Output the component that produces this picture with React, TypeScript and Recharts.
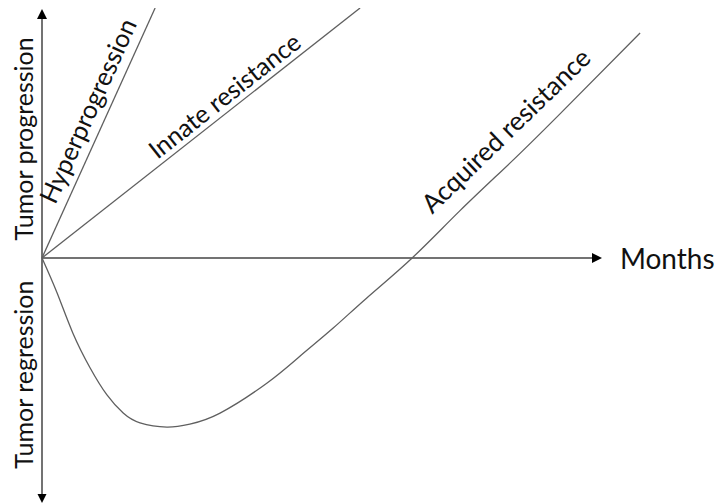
import { LineChart, Line, XAxis, YAxis, ReferenceLine, ReferenceDot } from 'recharts';

// x = months (arbitrary units), y = tumour size change (arbitrary units)
const hyperMonths = [0, 2.02];
const hyperSize = [0, 10.2];

const innateMonths = [0, 5.68];
const innateSize = [0, 10.2];

const acquiredMonths = [0, 0.27, 0.55, 0.86, 1.16, 1.45, 1.75, 2.23, 2.64, 3.18, 4.02, 4.61, 5.2, 5.8, 6.61, 7.46, 8.36, 9.25, 10.68];
const acquiredSize = [0, -1.43, -3.06, -4.49, -5.59, -6.33, -6.73, -6.9, -6.78, -6.33, -5.1, -4.0, -2.86, -1.63, 0, 1.92, 3.88, 5.88, 9.18];

const labelTexts = ['Tumor progression', 'Tumor regression', 'Hyperprogression', 'Innate resistance', 'Acquired resistance', 'Months'];

const toRows = (xs: number[], ys: number[]) => xs.map((x, i) => ({ x, y: ys[i] }));

const FONT = "Lato, 'Open Sans', sans-serif";
const LINE = '#5f5f5f';
const AXIS = '#444';
const INK = '#111';

// label placement (data units) and rotation
const LABEL_POS = [
  { x: -0.16, y: 4.86, angle: -90, anchor: 'middle', size: 25 },
  { x: -0.16, y: -4.76, angle: -90, anchor: 'middle', size: 25 },
  { x: 0.97, y: 5.85, angle: -65.7, anchor: 'middle', size: 25.5 },
  { x: 3.36, y: 6.33, angle: -38.2, anchor: 'middle', size: 25 },
  { x: 8.4, y: 4.92, angle: -44, anchor: 'middle', size: 26 },
  { x: 10.32, y: 0, angle: 0, anchor: 'start', size: 28 },
];

const arrow = (dir: 'up' | 'down' | 'right') => (p: any) => {
  const { cx, cy } = p;
  let pts = '';
  if (dir === 'up') pts = `${cx},${cy} ${cx - 5},${cy + 10} ${cx + 5},${cy + 10}`;
  if (dir === 'down') pts = `${cx},${cy} ${cx - 4.5},${cy - 9} ${cx + 4.5},${cy - 9}`;
  if (dir === 'right') pts = `${cx},${cy} ${cx - 10},${cy - 5} ${cx - 10},${cy + 5}`;
  return <polygon points={pts} fill="#000" />;
};

const textShape = (i: number) => (p: any) => {
  const { cx, cy } = p;
  const l = LABEL_POS[i];
  return (
    <text
      x={cx}
      y={cy}
      transform={l.angle ? `rotate(${l.angle}, ${cx}, ${cy})` : undefined}
      textAnchor={l.anchor}
      dominantBaseline={i === 5 ? 'central' : 'alphabetic'}
      fontFamily={FONT}
      fontSize={l.size}
      fill={INK}
    >
      {labelTexts[i]}
    </text>
  );
};

export default function App() {
  return (
    <div style={{ position: 'absolute', left: 0, top: 0, width: 719, height: 504, background: '#fff' }}>
      <LineChart width={719} height={504} margin={{ top: 8, right: 5, bottom: 1, left: 0 }}>
        <XAxis type="number" dataKey="x" domain={[-0.75, 12]} hide allowDataOverflow />
        <YAxis type="number" dataKey="y" domain={[-10, 10.2]} hide allowDataOverflow />

        <ReferenceLine segment={[{ x: 0, y: 0 }, { x: 9.9, y: 0 }]} stroke={AXIS} strokeWidth={1.5} />
        <ReferenceLine segment={[{ x: 0, y: -9.8 }, { x: 0, y: 10 }]} stroke={AXIS} strokeWidth={1.5} />
        <ReferenceDot x={10} y={0} r={0} shape={arrow('right')} />
        <ReferenceDot x={0} y={10.16} r={0} shape={arrow('up')} />
        <ReferenceDot x={0} y={-10} r={0} shape={arrow('down')} />

        <Line data={toRows(hyperMonths, hyperSize)} dataKey="y" type="linear" stroke={LINE} strokeWidth={1.3} dot={false} isAnimationActive={false} />
        <Line data={toRows(innateMonths, innateSize)} dataKey="y" type="linear" stroke={LINE} strokeWidth={1.3} dot={false} isAnimationActive={false} />
        <Line data={toRows(acquiredMonths, acquiredSize)} dataKey="y" type="natural" stroke={LINE} strokeWidth={1.3} dot={false} isAnimationActive={false} />

        {LABEL_POS.map((l, i) => (
          <ReferenceDot key={i} x={l.x} y={l.y} r={0} shape={textShape(i)} />
        ))}
      </LineChart>
    </div>
  );
}
